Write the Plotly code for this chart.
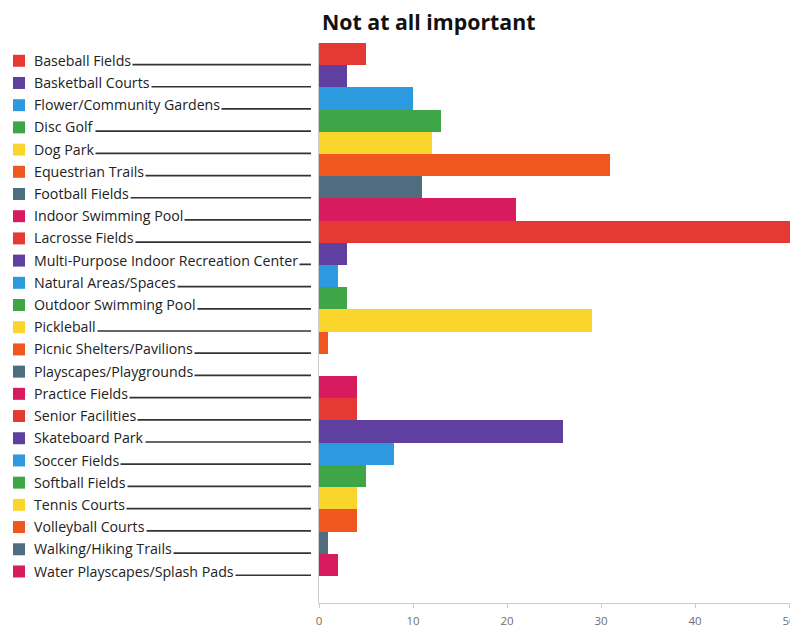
import plotly.graph_objects as go

categories = [
    "Baseball Fields", "Basketball Courts", "Flower/Community Gardens", "Disc Golf",
    "Dog Park", "Equestrian Trails", "Football Fields", "Indoor Swimming Pool",
    "Lacrosse Fields", "Multi-Purpose Indoor Recreation Center", "Natural Areas/Spaces",
    "Outdoor Swimming Pool", "Pickleball", "Picnic Shelters/Pavilions",
    "Playscapes/Playgrounds", "Practice Fields", "Senior Facilities", "Skateboard Park",
    "Soccer Fields", "Softball Fields", "Tennis Courts", "Volleyball Courts",
    "Walking/Hiking Trails", "Water Playscapes/Splash Pads",
]
values = [5, 3, 10, 13, 12, 31, 11, 21, 52, 3, 2, 3, 29, 1, 0, 4, 4, 26, 8, 5, 4, 4, 1, 2]
palette = ["#e53a34", "#5f3f9f", "#2d9ae0", "#3ea646", "#fad62d", "#f0561f", "#4e6e80", "#d81a5f"]
x_ticks = [0, 10, 20, 30, 40, 50]
title_text = "Not at all important"

colors = [palette[i % len(palette)] for i in range(len(categories))]
ypos = list(range(len(categories)))

fig = go.Figure(go.Bar(
    x=values, y=ypos, orientation="h", width=1.0,
    marker=dict(color=colors, line=dict(width=0)),
    hoverinfo="x+text", text=categories, textposition="none",
))

# the page body has an 8px margin, so figure coords = reference coords - 8
OFF = 8
PLOT_L = 319 - OFF
PLOT_W = 478.0
def px_to_paper(px):
    return (px - OFF - PLOT_L) / PLOT_W

shapes = []
annotations = []
for i, (cat, col) in enumerate(zip(categories, colors)):
    shapes.append(dict(type="line", xref="paper", yref="y",
                       x0=px_to_paper(40), x1=px_to_paper(311), y0=i + 0.47, y1=i + 0.47,
                       line=dict(color="#333333", width=1.7), layer="above"))
    shapes.append(dict(type="rect", xref="paper", yref="y",
                       x0=px_to_paper(13), x1=px_to_paper(25), y0=i + 0.03, y1=i + 0.57,
                       fillcolor=col, line=dict(width=0), layer="above"))
    annotations.append(dict(text=cat, xref="paper", yref="y", x=px_to_paper(32), y=i + 0.28,
                            xanchor="left", yanchor="middle", showarrow=False,
                            bgcolor="white", borderpad=1,
                            font=dict(family="Open Sans", size=14.2, color="#222222")))

annotations.append(dict(text="<b>" + title_text + "</b>", xref="paper", yref="paper",
                        x=px_to_paper(320), y=1, yshift=22, xanchor="left", yanchor="middle",
                        showarrow=False,
                        font=dict(family="Open Sans", size=21.3, color="#111111")))

fig.update_layout(
    width=790, height=622,
    margin=dict(l=PLOT_L, r=1, t=43 - OFF, b=27),
    paper_bgcolor="white", plot_bgcolor="white",
    showlegend=False,
    shapes=shapes, annotations=annotations,
    bargap=0,
    xaxis=dict(range=[0, 50.85], tickvals=x_ticks, ticks="outside", ticklen=4,
               tickcolor="#cccccc", showline=True, linecolor="#cccccc", linewidth=1,
               showgrid=False, zeroline=False, ticklabelstandoff=3,
               tickfont=dict(family="Open Sans", size=11.5, color="#6f6f6f")),
    yaxis=dict(range=[24.72, -0.5], showticklabels=False, showline=True,
               linecolor="#cccccc", linewidth=1, showgrid=False, zeroline=False, ticks=""),
)

fig.write_html("out.html")
